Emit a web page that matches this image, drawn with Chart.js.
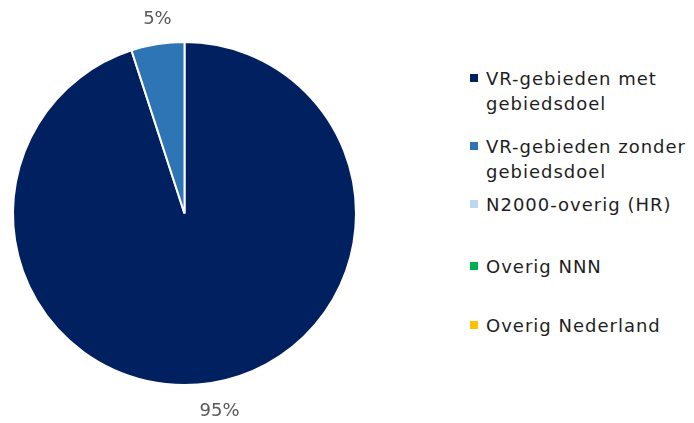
<!DOCTYPE html>
<html>
<head>
<meta charset="utf-8">
<script src="https://cdn.jsdelivr.net/npm/chart.js@4"></script>
<style>
    html, body { margin: 0; padding: 0; background: #fff; }
    #wrap { position: relative; width: 694px; height: 423px; }
    #chartBox { position: absolute; left: 0; top: 0; width: 370px; height: 423px; }
    .leg { position: absolute; left: 470px; font-family: "DejaVu Sans", sans-serif; font-size: 18px; line-height: 25px; letter-spacing: 1px; color: #1e1e1e; }
    .leg .box { position: absolute; left: 0; top: 8px; width: 8px; height: 8px; }
    .leg .txt { position: absolute; left: 16px; top: 0; white-space: nowrap; }
</style>
</head>
<body>
<div id="wrap">
    <div id="chartBox"><canvas id="pie"></canvas></div>
    <div id="legend"></div>
</div>
<script>
const categories = [
    ["VR-gebieden met", "gebiedsdoel"],
    ["VR-gebieden zonder", "gebiedsdoel"],
    ["N2000-overig (HR)"],
    ["Overig NNN"],
    ["Overig Nederland"]
];
const shares = [95, 5, 0, 0, 0];
const sliceColors = ['#002060', '#2E75B6', '#BDD7EE', '#00B050', '#FFC000'];
const legendTops = [66, 134, 192, 254, 313];

// legend built from the category list
const legendEl = document.getElementById('legend');
categories.forEach((lines, i) => {
    const item = document.createElement('div');
    item.className = 'leg';
    item.style.top = legendTops[i] + 'px';
    item.innerHTML = `<div class="box" style="background:${sliceColors[i]}"></div>` +
        `<div class="txt">${lines.join('<br>')}</div>`;
    legendEl.appendChild(item);
});

// percentage labels outside the slices
const outsideLabels = {
    id: 'outsideLabels',
    afterDatasetsDraw(chart) {
        const ctx = chart.ctx;
        const meta = chart.getDatasetMeta(0);
        ctx.save();
        ctx.font = '18px "DejaVu Sans", sans-serif';
        ctx.fillStyle = '#595959';
        ctx.textAlign = 'center';
        ctx.textBaseline = 'middle';
        meta.data.forEach((arc, i) => {
            if (!shares[i]) return;
            const mid = (arc.startAngle + arc.endAngle) / 2;
            const r = arc.outerRadius + 27;
            ctx.fillText(shares[i] + '%', arc.x + Math.cos(mid) * r + 4, arc.y + Math.sin(mid) * r + 2);
        });
        ctx.restore();
    }
};

new Chart(document.getElementById('pie').getContext('2d'), {
    type: 'pie',
    data: {
        labels: categories.map(l => l.join(' ')),
        datasets: [{
            data: shares,
            backgroundColor: sliceColors,
            borderColor: '#ffffff',
            borderWidth: 2
        }]
    },
    options: {
        responsive: true,
        maintainAspectRatio: false,
        animation: false,
        layout: { padding: { left: 12, right: 13, top: 41, bottom: 37 } },
        plugins: {
            legend: { display: false },
            tooltip: { enabled: false }
        }
    },
    plugins: [outsideLabels]
});
</script>
</body>
</html>
